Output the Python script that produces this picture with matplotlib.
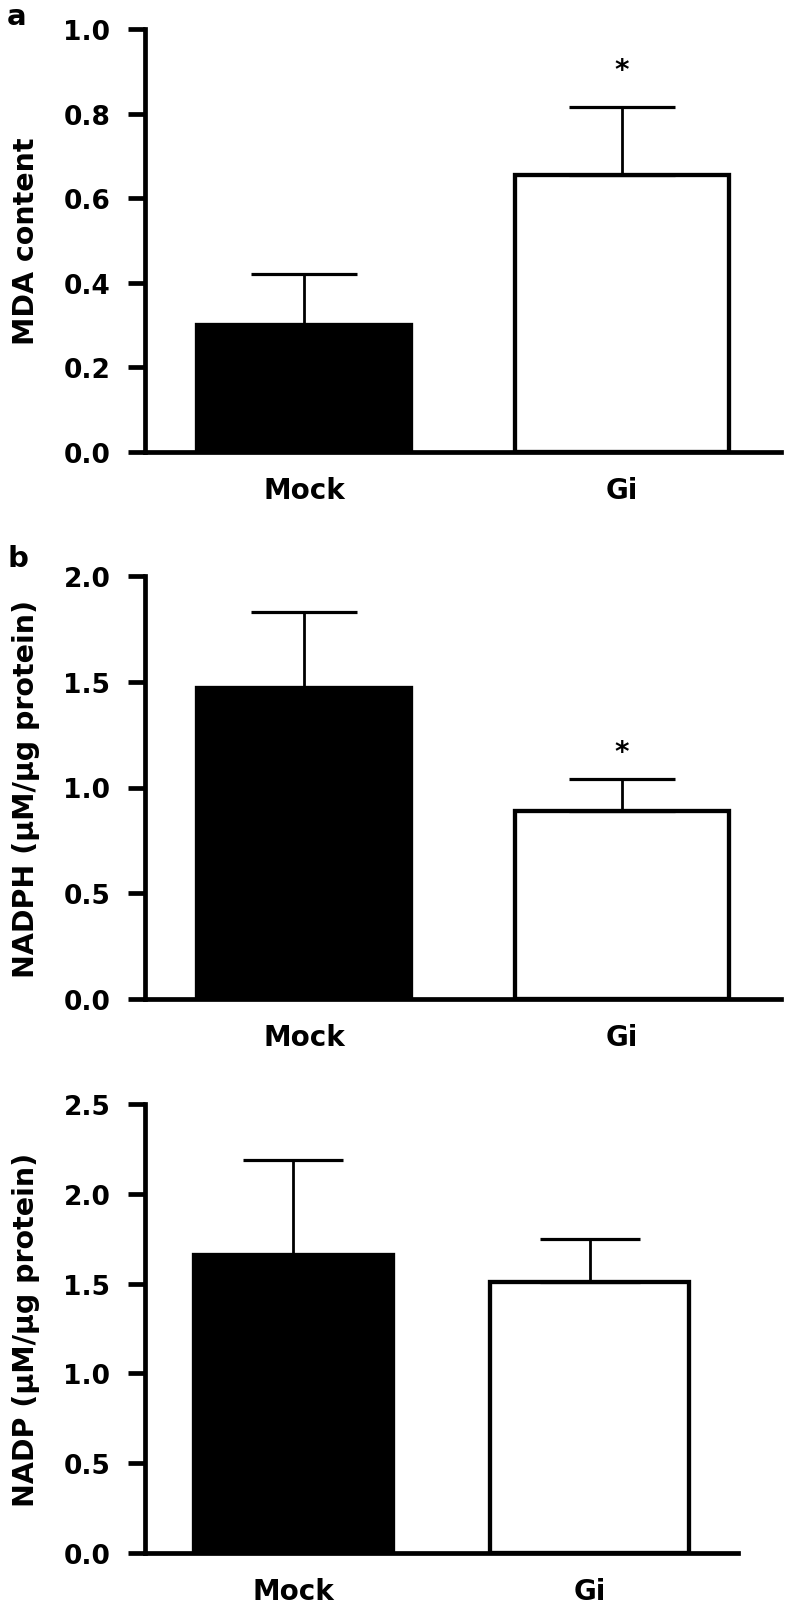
import numpy as np
import matplotlib
matplotlib.use("Agg")
import matplotlib.pyplot as plt

plt.rcParams['font.family'] = ['DejaVu Sans']
plt.rcParams['font.weight'] = 'bold'

groups = ["Mock", "Gi"]

# panel a: MDA
mda_mean = [0.30, 0.655]
mda_err = [0.12, 0.16]

# panel b: NADPH
nadph_mean = [1.47, 0.89]
nadph_err = [0.36, 0.15]

# panel c: NADP
nadp_mean = [1.66, 1.51]
nadp_err = [0.53, 0.24]

means = [mda_mean, nadph_mean, nadp_mean]
errs = [mda_err, nadph_err, nadp_err]
ylabels = ["MDA content", "NADPH (\u03bcM/\u03bcg protein)", "NADP (\u03bcM/\u03bcg protein)"]
yticks = [[0.0, 0.2, 0.4, 0.6, 0.8, 1.0],
          [0.0, 0.5, 1.0, 1.5, 2.0],
          [0.0, 0.5, 1.0, 1.5, 2.0, 2.5]]
star_y = [0.92, 1.20, None]
tags = ["a", "b", None]

W, H = 785, 1606
fig = plt.figure(figsize=(W / 100, H / 100), dpi=100)

# axes boxes in pixels: left, top(of ymax), width, height
boxes = [(145, 30, 636, 423), (145, 577, 636, 423), (145, 1105, 593, 449)]
tag_base = [25, 567]

lw = 3.4
x = np.arange(len(groups))
for i in range(3):
    l, t, w, h = boxes[i]
    ax = fig.add_axes([l / W, (H - t - h) / H, w / W, h / H])
    ax.bar(x, means[i], width=0.67, color=["black", "white"],
           edgecolor="black", linewidth=3.1, zorder=2)
    pts_per_unit = (w / 100) * 72 / 2.0
    ax.errorbar(x, means[i], yerr=[[0, 0], errs[i]], fmt="none", ecolor="black",
                elinewidth=2.0, capsize=0.168 * pts_per_unit, capthick=2.3, zorder=3)
    if star_y[i] is not None:
        ax.annotate("*", (1, star_y[i]), xytext=(0, -11), textcoords="offset points",
                    ha="center", va="baseline", fontsize=20, fontweight="bold")
    ax.set_xlim(-0.5, 1.5)
    ax.set_ylim(0, yticks[i][-1])
    ax.set_yticks(yticks[i])
    ax.set_yticklabels(["%.1f" % v for v in yticks[i]])
    ax.set_xticks(x)
    ax.set_xticklabels(groups, fontsize=20, fontweight="bold")
    ax.tick_params(axis="x", length=0, pad=17)
    ax.tick_params(axis="y", length=12, width=lw, pad=13, labelsize=19, direction="out")
    for s in ["top", "right"]:
        ax.spines[s].set_visible(False)
    for s in ["left", "bottom"]:
        ax.spines[s].set_linewidth(lw)
    ax.set_ylabel(ylabels[i], fontsize=20.5, fontweight="bold")
    ax.yaxis.set_label_coords((40 - l) / w, 0.5)
    if tags[i] is not None:
        fig.text(7 / W, 1 - tag_base[i] / H, tags[i], fontsize=21, fontweight="bold",
                 ha="left", va="baseline")

fig.savefig("out.png", dpi=100)
